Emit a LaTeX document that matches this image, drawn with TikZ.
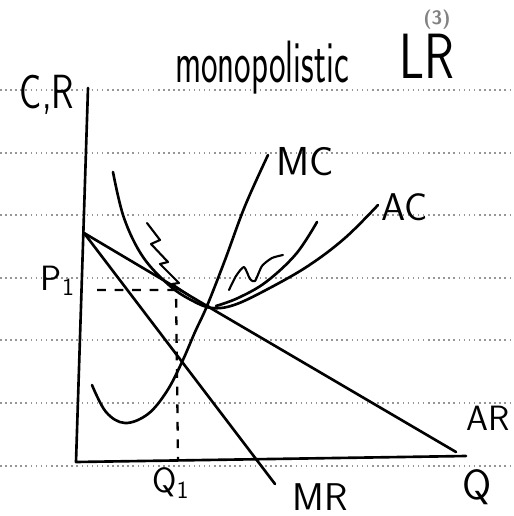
\documentclass[tikz,border=0pt]{standalone}
\usepackage{tikz}
\usetikzlibrary{positioning}
\definecolor{pline}{RGB}{150,150,150}
\definecolor{pgray}{RGB}{130,130,130}

\begin{document}
\begin{tikzpicture}[x=0.02cm, y=-0.02cm,
  ruled/.style={pline, dotted, line width=0.9pt},
  pen/.style={black, line width=1.5pt, line cap=round, line join=round},
  guide/.style={black, line width=1.3pt, dash pattern=on 5pt off 5pt},
  hand/.style={font=\sffamily\fontsize{#1}{#1}\selectfont, inner sep=0pt}
]
\useasboundingbox (0,0) rectangle (513,516);

% ruled paper
\foreach \y in {90,153,215,278,340,403,466}
  \draw[ruled] (0,\y) -- (513,\y);

% axes
\coordinate (top)  at (88,88);
\coordinate (O)    at (76,462);
\coordinate (qend) at (466,456);
\draw[pen] (top) -- (O) -- (qend);

% demand (AR) and MR
\coordinate (pint)  at (84,233);
\coordinate (arend) at (456,452);
\coordinate (mrend) at (275,484);
\coordinate (E)     at (207,306);
\draw[pen] (pint) -- (E) -- (arend);
\draw[pen] (pint) -- (mrend);

% MC
\draw[pen] plot[smooth, tension=0.6] coordinates {(92,385) (106,412) (125,423) (148,414)
  (167,391) (182,362) (195,332) (E) (225,260) (245,206) (268,155)};

% AC
\draw[pen] plot[smooth, tension=0.6] coordinates {(113,172) (124,218) (143,257) (170,286)
  (193,301) (212,308) (234,305) (266,290) (308,266) (345,238) (378,205)};

% earlier AC
\draw[pen] plot[smooth, tension=0.6] coordinates {(317,222) (296,254) (266,282) (238,298) (216,306)};

% scribbles
\draw[pen, line width=1.2pt] plot[smooth, tension=0.4] coordinates {(229,290) (236,276) (244,267)
  (250,279) (255,281) (262,266) (272,258) (283,255)};
\draw[pen, line width=1.2pt] (147,223) -- (160,240) -- (151,244) -- (168,262) -- (160,264)
  -- (179,283) -- (172,284) -- (190,296);

% P1 / Q1 guides
\coordinate (p1d) at (97,290);
\coordinate (pq)  at (176,290);
\coordinate (q1d) at (178,460);
\draw[guide] (p1d) -- (pq) -- (q1d);
\fill (E) circle (2.5);

% labels
\node[hand=21] (cr)    at (47,95)  {\scalebox{1}[1.3]{C,R}};
\node[hand=20, anchor=base] (title) at (262,83) {\scalebox{1}[1.7]{monopolistic}};
\node[hand=28, anchor=base] (lr)    at (427,79) {\scalebox{1}[1.3]{LR}};
\node[hand=11, font=\sffamily\bfseries\fontsize{11}{11}\selectfont, text=pgray] (num) at (437,20) {(3)};
\node[hand=23] (mc)    at (305,162) {MC};
\node[hand=22] (ac)    at (405,207) {AC};
\node[hand=20] (p1)    at (58,281)  {P\textsubscript{1}};
\node[hand=20] (q1)    at (171,483) {Q\textsubscript{1}};
\node[hand=22] (mr)    at (320,497) {MR};
\node[hand=20] (ar)    at (488,418) {AR};
\node[hand=24] (q)     at (477,487) {Q};
\end{tikzpicture}
\end{document}
